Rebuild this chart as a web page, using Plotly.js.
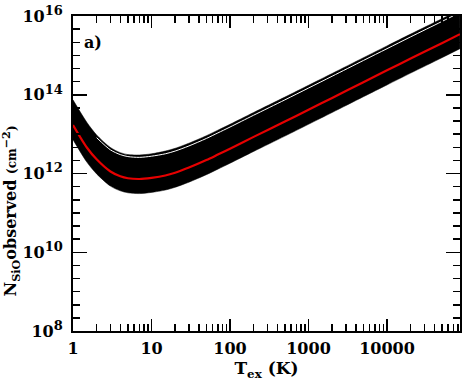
<!DOCTYPE html>
<html>
<head>
<meta charset="utf-8">
<script src="https://cdn.plot.ly/plotly-3.0.1.min.js"></script>
<style>
  body { margin: 0; background: #fff; }
  #chart { width: 463px; height: 382px; }
</style>
</head>
<body>
<div id="chart"></div>
<script>
// excitation temperature (K)
var tex = [1, 1.5, 2, 3, 4, 5, 7, 10, 15, 20, 30, 50, 70, 100, 200, 500, 1000, 2000, 5000, 10000, 20000, 50000, 85000];

// log10 of observed SiO column density (cm^-2)
var logBest  = [13.23, 12.66, 12.36, 12.05, 11.93, 11.88, 11.86, 11.89, 11.95, 12.02, 12.15, 12.34, 12.48, 12.63, 12.93, 13.32, 13.62, 13.92, 14.32, 14.62, 14.92, 15.31, 15.54];
var logUpper = [13.87, 13.30, 12.98, 12.66, 12.53, 12.48, 12.47, 12.50, 12.57, 12.64, 12.77, 12.96, 13.10, 13.25, 13.55, 13.94, 14.24, 14.54, 14.94, 15.24, 15.54, 15.93, 16.16];
var logLower = [12.86, 12.29, 11.99, 11.68, 11.56, 11.51, 11.49, 11.52, 11.58, 11.65, 11.78, 11.97, 12.11, 12.26, 12.56, 12.95, 13.25, 13.55, 13.95, 14.25, 14.55, 14.94, 15.17];
var logWhite = [null, null, 12.91, 12.60, 12.48, 12.43, 12.41, 12.44, 12.50, 12.57, 12.70, 12.89, 13.03, 13.18, 13.48, 13.87, 14.17, 14.47, 14.87, 15.17, 15.47, 15.86, 16.09];

var xTickVals = [1, 10, 100, 1000, 10000];
var xTickText = ['1', '10', '100', '1000', '10000'];
var yTickVals = [1e8, 1e10, 1e12, 1e14, 1e16];
var yTickText = ['8', '10', '12', '14', '16'].map(function (p) {
  return '10<sup><span style="font-size:13px">' + p + '</span></sup>';
});

function pow10(arr) {
  return arr.map(function (v) { return v === null ? null : Math.pow(10, v); });
}

var xMinor = [];
for (var d = 1; d <= 10000; d *= 10) {
  for (var m = 2; m <= 9; m++) xMinor.push(d * m);
}
var yMinor = [];
for (var k = 1; k < 24; k++) {
  if (k % 6 !== 0) yMinor.push(Math.pow(10, 8 + k / 3));
}

var fnt = 'DejaVu Serif, Liberation Serif, serif';

var data = [
  {
    x: tex, y: pow10(logLower), type: 'scatter', mode: 'lines',
    line: { color: 'black', width: 0.5, shape: 'spline', smoothing: 0.8 }, hoverinfo: 'skip'
  },
  {
    x: tex, y: pow10(logUpper), type: 'scatter', mode: 'lines',
    line: { color: 'black', width: 0.5, shape: 'spline', smoothing: 0.8 },
    fill: 'tonexty', fillcolor: 'black', hoverinfo: 'skip'
  },
  {
    x: tex, y: pow10(logWhite), type: 'scatter', mode: 'lines',
    line: { color: 'white', width: 1, shape: 'spline', smoothing: 0.8 }, connectgaps: false
  },
  {
    x: tex, y: pow10(logBest), type: 'scatter', mode: 'lines',
    line: { color: 'rgb(230,0,0)', width: 2.2, shape: 'spline', smoothing: 0.8 }
  }
];

var layout = {
  width: 463,
  height: 382,
  showlegend: false,
  paper_bgcolor: 'white',
  plot_bgcolor: 'white',
  margin: { l: 73, r: 3, t: 16, b: 51 },
  font: { family: fnt, color: 'black' },
  xaxis: {
    type: 'log',
    range: [0, 4.93],
    showgrid: false,
    zeroline: false,
    showline: true, linecolor: 'black', linewidth: 2,
    mirror: 'allticks',
    ticks: 'inside', ticklen: 12, tickwidth: 1.5, tickcolor: 'black',
    tickmode: 'array', tickvals: xTickVals, ticktext: xTickText,
    tickfont: { family: fnt, size: 16, weight: 'bold' },
    ticklabelstandoff: 2,
    minor: { tickmode: 'array', tickvals: xMinor, ticks: 'inside', ticklen: 7, tickwidth: 1.5, tickcolor: 'black', showgrid: false },
    title: { text: 'T<sub>ex</sub> (K)', font: { family: fnt, size: 17, weight: 'bold' }, standoff: 3 }
  },
  yaxis: {
    type: 'log',
    range: [8, 16],
    showgrid: false,
    zeroline: false,
    showline: true, linecolor: 'black', linewidth: 2,
    mirror: 'allticks',
    ticks: 'inside', ticklen: 14, tickwidth: 1.5, tickcolor: 'black',
    tickmode: 'array', tickvals: yTickVals, ticktext: yTickText,
    tickfont: { family: fnt, size: 16, weight: 'bold' },
    ticklabelstandoff: 5,
    minor: { tickmode: 'array', tickvals: yMinor, ticks: 'inside', ticklen: 7, tickwidth: 1.5, tickcolor: 'black', showgrid: false }
  },
  annotations: [
    {
      xref: 'paper', yref: 'paper',
      x: 0.022, y: 0.915,
      xanchor: 'left', yanchor: 'middle',
      text: 'a)',
      showarrow: false,
      font: { family: fnt, size: 16, weight: 'bold', color: 'black' }
    },
    {
      xref: 'paper', yref: 'paper',
      x: -0.16, y: 0.38,
      xanchor: 'center', yanchor: 'middle',
      textangle: -90,
      text: 'N<sub>SiO</sub>observed <span style="font-size:12px">(cm</span><sup>\u22122</sup><span style="font-size:12px">)</span>',
      showarrow: false,
      font: { family: fnt, size: 16, weight: 'bold', color: 'black' }
    }
  ]
};

Plotly.newPlot('chart', data, layout, { staticPlot: true, displayModeBar: false });
</script>
</body>
</html>
